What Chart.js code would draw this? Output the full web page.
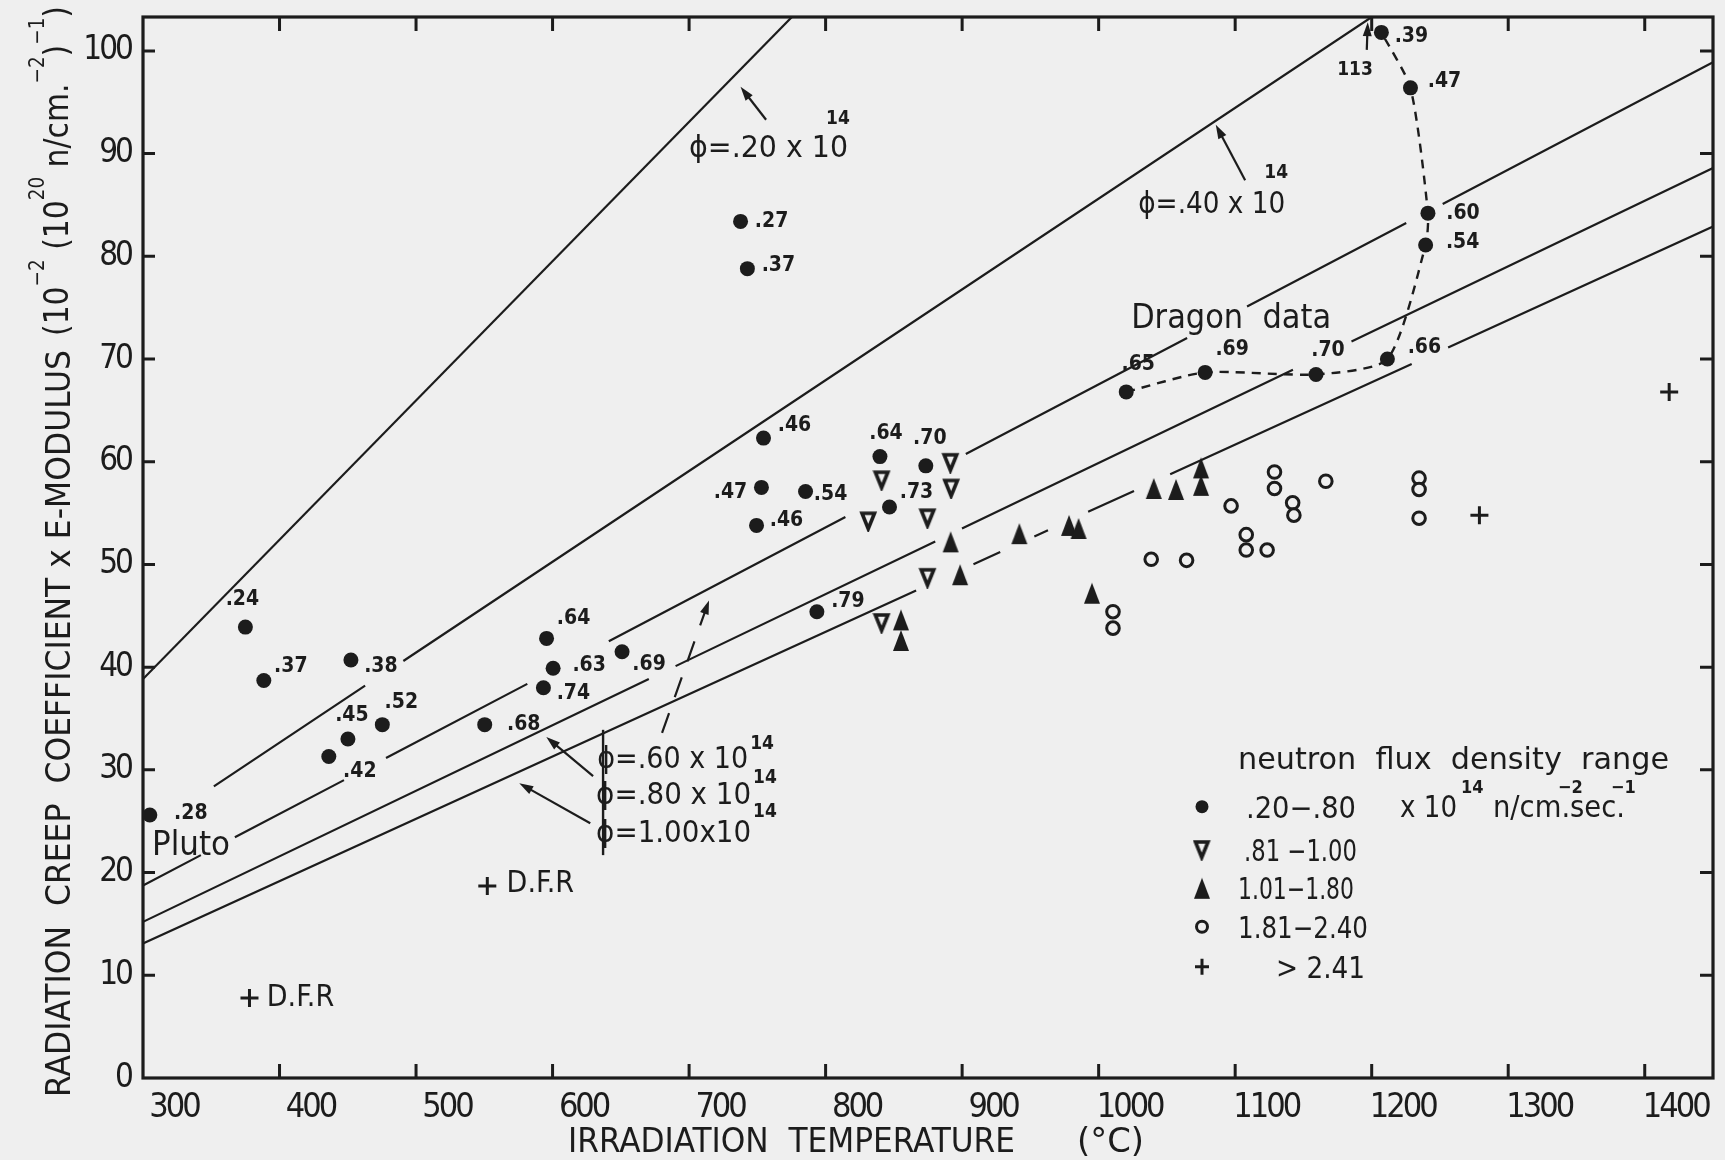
<!DOCTYPE html>
<html>
<head>
<meta charset="utf-8">
<title>Radiation creep coefficient x E-modulus vs irradiation temperature</title>
<script src="https://cdn.jsdelivr.net/npm/chart.js@4.4.1/dist/chart.umd.min.js"></script>
<style>
  html, body { margin: 0; padding: 0; background: #efefef; }
  canvas { display: block; }
</style>
</head>
<body>
<canvas id="creep" width="1725" height="1160"></canvas>
<script>
// ------------------------------------------------------------------
// Radiation creep coefficient x E-modulus against irradiation
// temperature, grouped by neutron flux density (10^14 n/cm^2 s).
// ------------------------------------------------------------------

const tempTicks  = [300, 400, 500, 600, 700, 800, 900, 1000, 1100, 1200, 1300, 1400];
const creepTicks = [0, 10, 20, 30, 40, 50, 60, 70, 80, 90, 100];

// flux .20 - .80 (solid circles); label = flux of each specimen
const lowT    = [305, 375, 388.5, 452.3, 450.1, 436.1, 475.3, 550.3, 595.6, 600.4, 593.3, 650.9, 737.7, 742.7, 754.5, 753.0, 785.3, 749.4, 793.6, 839.8, 873.4, 846.8];
const lowV    = [25.6, 43.9, 38.7, 40.7, 33.0, 31.3, 34.4, 34.4, 42.8, 39.9, 38.0, 41.5, 83.4, 78.8, 62.3, 57.5, 57.1, 53.8, 45.4, 60.5, 59.6, 55.6];
const lowFlux = ['.28', '.24', '.37', '.38', '.45', '.42', '.52', '.68', '.64', '.63', '.74', '.69', '.27', '.37', '.46', '.47', '.54', '.46', '.79', '.64', '.70', '.73'];

// Dragon reactor series (also .20 - .80), joined by a dashed curve
const dragonT    = [1020.2, 1078, 1159.2, 1211.5, 1239.5, 1241.2, 1228.4, 1207.1];
const dragonV    = [66.8, 68.7, 68.5, 70.0, 81.1, 84.2, 96.4, 101.8];
const dragonFlux = ['.65', '.69', '.70', '.66', '.54', '.60', '.47', '.39'];

// flux .81 - 1.00 (open down triangles)
const midT = [831.4, 841.2, 891.6, 892.1, 874.8, 874.8, 841.2];
const midV = [54.2, 58.2, 59.9, 57.4, 54.5, 48.7, 44.3];

// flux 1.01 - 1.80 (solid up triangles)
const highT = [891.6, 898.5, 855.2, 855.2, 941.9, 978.3, 985.3, 995.1, 1040.4, 1056.7, 1075, 1075];
const highV = [52.2, 49.0, 44.6, 42.6, 53.0, 53.8, 53.5, 47.2, 57.4, 57.3, 59.4, 57.7];

// flux 1.81 - 2.40 (open circles)
const vhighT = [1010.5, 1010.5, 1038.5, 1064.4, 1108.1, 1108.1, 1123.4, 1097, 1128.8, 1128.8, 1142.1, 1143, 1166.4, 1234.7, 1234.7, 1234.7];
const vhighV = [45.4, 43.8, 50.5, 50.4, 52.9, 51.4, 51.4, 55.7, 59.0, 57.4, 56.0, 54.8, 58.1, 58.4, 57.3, 54.5];

// flux > 2.41 (crosses)
const topT    = [1278.9, 1417.9, 552.2, 378];
const topV    = [54.8, 66.8, 18.7, 7.8];
const topNote = ['', '', 'D.F.R', 'D.F.R'];

// Constant-flux lines, drawn as visible pieces; null marks a break
const line020 = [[300, 38.85], [775.3, 103.3]];
const line040 = [[351.9, 28.4], [462.7, 38.2], null, [490.7, 40.6], [1200, 103.3]];
const line060 = [[300, 18.75], [342.4, 21.7], null, [367.3, 23.44], [447.2, 29.0], null, [478, 31.16], [581.5, 38.37], null,
                 [641.2, 42.53], [814.5, 54.61], null, [902.7, 60.76], [1064.8, 72.05], null, [1108.7, 75.12], [1225.3, 83.24], null,
                 [1252, 85.10], [1450, 98.9]];
const line080 = [[300, 15.2], [670.5, 38.85], null, [690.1, 40.10], [880.3, 52.24], null, [899.9, 53.49], [1142.3, 68.96], null,
                 [1185.2, 71.70], [1450, 88.6]];
const line100 = [[300, 13.1], [866.3, 47.47], null, [908.3, 50.02], [927.9, 51.21], null, [952.9, 52.73], [962.9, 53.34], null,
                 [992.3, 55.12], [1025.9, 57.16], null, [1052.4, 58.77], [1229.3, 69.51], null, [1256, 71.13], [1450, 82.9]];

// Legend entries
const fluxRanges = ['.20\u2212.80', '.81 \u22121.00', '1.01\u22121.80', '1.81\u22122.40', '> 2.41'];

// ------------------------------------------------------------------
// Styling and layout
// ------------------------------------------------------------------
const INK = '#1c1c1c';
const BG = '#efefef';
const COND = "'DejaVu Sans Condensed', 'DejaVu Sans', sans-serif";

// pixel offsets of the flux labels from their markers
const lowFluxOffset = [[41, -2], [-3, -28], [27, -14], [30, 7], [4, -24], [31, 15], [19, -22], [39, 0], [27, -20], [36, -3], [30, 6],
                       [27, 13], [31, 0], [31, -3], [31, -13], [-31, 5], [25, 3], [30, -5], [31, -10], [6, -23], [4, -27], [27, -14]];
const dragonOffset  = [[12, -27], [27, -23], [12, -24], [37, -11], [37, -2], [35, 0], [34, -6], [30, 4]];
const topNoteOffset = [[0, 0], [0, 0], [53, -2], [51, 0]];

function markerCanvas(kind) {
  const c = document.createElement('canvas');
  const g = c.getContext('2d');
  if (kind === 'down') {            // open triangle, apex down
    const w = 12.5, h = 15.5, p = 3;
    c.width = Math.ceil(w + 2 * p); c.height = Math.ceil(h + 2 * p);
    g.beginPath(); g.moveTo(p, p); g.lineTo(p + w, p); g.lineTo(p + w / 2, p + h); g.closePath();
    g.fillStyle = BG; g.fill(); g.lineWidth = 3.6; g.lineJoin = 'miter'; g.strokeStyle = INK; g.stroke();
  } else {                          // filled tall triangle, apex up
    const w = 16, h = 21, p = 1;
    c.width = w + 2 * p; c.height = h + 2 * p;
    g.beginPath(); g.moveTo(p + w / 2, p); g.lineTo(p + w, p + h); g.lineTo(p, p + h); g.closePath();
    g.fillStyle = INK; g.fill();
  }
  return c;
}
const downTri = markerCanvas('down');
const upTri = markerCanvas('up');

const xy = (ts, vs) => ts.map((t, i) => ({ x: t, y: vs[i] }));
const pieces = arr => arr.map(p => (p ? { x: p[0], y: p[1] } : { x: null, y: null }));

function lineSet(arr) {
  return { data: pieces(arr), showLine: true, pointRadius: 0, borderColor: INK, borderWidth: 2.2, fill: false };
}

// ------------------------------------------------------------------
// Text helpers (superscripts, width fitting)
// ------------------------------------------------------------------
function drawRich(ctx, parts, x, y, o) {
  const size = o.size, fam = o.family || COND, wt = o.weight || 'normal';
  const supSize = o.supSize || Math.round(size * 0.6);
  const rise = o.rise != null ? o.rise : size * 0.55;
  const font = s => `${wt} ${s}px ${fam}`;
  ctx.save();
  ctx.letterSpacing = '0px';
  let w = 0;
  const items = [];
  for (const p of parts) {
    const sup = typeof p !== 'string';
    const t = sup ? p.sup : p;
    ctx.font = font(sup ? supSize : size);
    const m = ctx.measureText(t).width;
    items.push({ t, sup, x: w });
    w += m;
  }
  const sx = o.width ? o.width / w : 1;
  ctx.translate(x, y);
  if (o.rotate) ctx.rotate(o.rotate);
  ctx.scale(sx, 1);
  const x0 = o.align === 'center' ? -w / 2 : 0;
  ctx.fillStyle = INK;
  ctx.textAlign = 'left';
  ctx.textBaseline = 'alphabetic';
  for (const it of items) {
    ctx.font = font(it.sup ? supSize : size);
    ctx.fillText(it.t, x0 + it.x, it.sup ? -rise : 0);
  }
  ctx.restore();
}

function arrow(ctx, x1, y1, x2, y2, dashed) {
  const a = Math.atan2(y2 - y1, x2 - x1), L = 14, W = 4.5;
  ctx.save();
  ctx.strokeStyle = INK; ctx.fillStyle = INK; ctx.lineWidth = 2.2;
  if (dashed) ctx.setLineDash([21, 17]);
  ctx.beginPath(); ctx.moveTo(x1, y1); ctx.lineTo(x2 - L * 0.6 * Math.cos(a), y2 - L * 0.6 * Math.sin(a)); ctx.stroke();
  ctx.setLineDash([]);
  ctx.beginPath();
  ctx.moveTo(x2, y2);
  ctx.lineTo(x2 - L * Math.cos(a) + W * Math.sin(a), y2 - L * Math.sin(a) - W * Math.cos(a));
  ctx.lineTo(x2 - L * Math.cos(a) - W * Math.sin(a), y2 - L * Math.sin(a) + W * Math.cos(a));
  ctx.closePath(); ctx.fill();
  ctx.restore();
}

// Annotations placed in data coordinates (temperature, creep value)
const fluxNotes = [
  { text: '\u03D5=.20 x 10', at: [700, 90.7],   width: 159, rise: 33, supShift: -22 },
  { text: '\u03D5=.40 x 10', at: [1029, 85.3],  width: 147, rise: 35, supShift: -21 },
  { text: '\u03D5=.60 x 10', at: [632.7, 31.3], width: 151, rise: 19, supShift: 2 },
  { text: '\u03D5=.80 x 10', at: [631.9, 27.7], width: 155, rise: 21, supShift: 2 },
  { text: '\u03D5=1.00x10',  at: [631.9, 24.0], width: 155, rise: 25, supShift: 2 }
];
const plainNotes = [
  { text: 'Dragon  data', at: [1023.8, 74.2], width: 200, size: 34 },
  { text: 'Pluto',        at: [306.6, 22.9],  width: 78,  size: 34 }
];
const arrowNotes = [
  { from: [756.4, 93.3],  to: [737.7, 96.5] },
  { from: [1107.3, 87.4], to: [1085.8, 92.8] },
  { from: [680.2, 33.6],  to: [714.6, 46.5], dashed: true },
  { from: [629.7, 29.4],  to: [595.4, 33.2] },
  { from: [627.6, 24.8],  to: [575.6, 28.7] },
  { from: [1196.4, 100.1], to: [1197.1, 102.8] }
];
const phiStem = { t: 637, from: 33.9, to: 21.7 };
const offScale = { text: '113', at: [1187.8, 98.15] };

// ------------------------------------------------------------------
// Plugin: paper, frame with inward ticks, labels, titles and legend
// ------------------------------------------------------------------
function legendMarker(ctx, kind, x, y) {
  ctx.save();
  ctx.fillStyle = INK; ctx.strokeStyle = INK;
  if (kind === 'dot') { ctx.beginPath(); ctx.arc(x, y, 6.5, 0, Math.PI * 2); ctx.fill(); }
  else if (kind === 'down') ctx.drawImage(downTri, x - downTri.width / 2, y - downTri.height / 2);
  else if (kind === 'up') ctx.drawImage(upTri, x - upTri.width / 2, y - upTri.height / 2);
  else if (kind === 'ring') { ctx.lineWidth = 3; ctx.beginPath(); ctx.arc(x, y, 5.5, 0, Math.PI * 2); ctx.stroke(); }
  else { ctx.lineWidth = 3; ctx.beginPath(); ctx.moveTo(x - 7, y); ctx.lineTo(x + 7, y); ctx.moveTo(x, y - 8); ctx.lineTo(x, y + 8); ctx.stroke(); }
  ctx.restore();
}

const paper = {
  id: 'paper',
  beforeDraw(chart) {
    const { ctx, width, height } = chart;
    ctx.save(); ctx.fillStyle = BG; ctx.fillRect(0, 0, width, height); ctx.restore();
    // narrow set of the tick numerals
    ctx.letterSpacing = '-3px';
  },
  beforeDatasetsDraw(chart) {
    const { ctx, chartArea: a, scales: { x, y } } = chart;
    ctx.letterSpacing = '0px';
    ctx.save();
    ctx.strokeStyle = INK;
    ctx.lineWidth = 3.2;
    ctx.strokeRect(a.left, a.top, a.right - a.left, a.bottom - a.top);
    ctx.lineWidth = 3;
    ctx.beginPath();
    for (const t of x.ticks) {
      const X = x.getPixelForValue(t.value);
      if (X <= a.left + 1) continue;
      ctx.moveTo(X, a.bottom); ctx.lineTo(X, a.bottom - 14);
      ctx.moveTo(X, a.top); ctx.lineTo(X, a.top + 14);
    }
    for (const t of y.ticks) {
      const Y = y.getPixelForValue(t.value);
      if (Y >= a.bottom - 1) continue;
      ctx.moveTo(a.left, Y); ctx.lineTo(a.left + 12, Y);
      ctx.moveTo(a.right, Y); ctx.lineTo(a.right - 13, Y);
    }
    ctx.stroke();
    ctx.restore();
  },
  afterDatasetsDraw(chart) {
    const { ctx, scales: { x, y } } = chart;
    const P = (t, v) => [x.getPixelForValue(t), y.getPixelForValue(v)];

    // flux labels beside the markers
    chart.data.datasets.forEach((ds, i) => {
      if (!ds.valueLabels) return;
      const meta = chart.getDatasetMeta(i);
      ctx.save();
      ctx.fillStyle = INK; ctx.textAlign = 'center'; ctx.textBaseline = 'middle';
      ctx.font = ds.labelFont;
      meta.data.forEach((el, j) => {
        const txt = ds.valueLabels[j];
        if (!txt) return;
        const off = ds.labelOffsets[j];
        ctx.fillText(txt, el.x + off[0], el.y + off[1]);
      });
      ctx.restore();
    });

    // flux-line captions
    for (const n of fluxNotes) {
      const [px, py] = P(n.at[0], n.at[1]);
      drawRich(ctx, [n.text], px, py + 11, { size: 30, width: n.width });
      drawRich(ctx, ['14'], px + n.width + n.supShift, py + 11 - n.rise, { size: 19, weight: 'bold' });
    }
    const [sx, sy1] = P(phiStem.t, phiStem.from);
    const [, sy2] = P(phiStem.t, phiStem.to);
    ctx.save(); ctx.strokeStyle = INK; ctx.lineWidth = 2.4;
    ctx.beginPath(); ctx.moveTo(sx, sy1); ctx.lineTo(sx, sy2); ctx.stroke(); ctx.restore();

    for (const n of plainNotes) {
      const [px, py] = P(n.at[0], n.at[1]);
      drawRich(ctx, [n.text], px, py + 12, { size: n.size, width: n.width });
    }
    for (const a of arrowNotes) {
      const [x1, y1] = P(a.from[0], a.from[1]);
      const [x2, y2] = P(a.to[0], a.to[1]);
      arrow(ctx, x1, y1, x2, y2, a.dashed);
    }
    {
      const [px, py] = P(offScale.at[0], offScale.at[1]);
      ctx.save(); ctx.fillStyle = INK; ctx.font = `bold 19px ${COND}`;
      ctx.textAlign = 'center'; ctx.textBaseline = 'middle'; ctx.fillText(offScale.text, px, py); ctx.restore();
    }

    // axis titles
    drawRich(ctx, ['IRRADIATION  TEMPERATURE'], 568, 1152, { size: 34, width: 447 });
    drawRich(ctx, ['(\u00B0C)'], 1077, 1152, { size: 34, width: 67 });
    drawRich(ctx, ['RADIATION  CREEP  COEFFICIENT x E-MODULUS'],
             70, 1097, { size: 34, width: 747, rotate: -Math.PI / 2 });
    drawRich(ctx, ['(10', { sup: '\u22122' }, ' (10', { sup: '20' }, ' n/cm.', { sup: '\u22122' }, ')', { sup: '\u22121' }, ')'],
             68, 336, { size: 34, supSize: 21, rise: 24, width: 330, rotate: -Math.PI / 2 });

    // legend
    drawRich(ctx, ['neutron  flux  density  range'], 1238, 769, { size: 30, width: 431 });
    const rowsY = [806.7, 850, 888.3, 926.7, 966.7];
    const kinds = ['dot', 'down', 'up', 'ring', 'cross'];
    const textX = [1246, 1244, 1238, 1238, 1276];
    const textW = [110, 113, 116, 130, 89];
    rowsY.forEach((ry, i) => {
      legendMarker(ctx, kinds[i], 1202, ry);
      drawRich(ctx, [fluxRanges[i]], textX[i], ry + 11, { size: 30, width: textW[i] });
    });
    drawRich(ctx, ['x 10'], 1400, 817, { size: 30, width: 57 });
    drawRich(ctx, ['14'], 1461, 793, { size: 18, weight: 'bold' });
    drawRich(ctx, ['n/cm.sec.'], 1493, 817, { size: 30, width: 132 });
    drawRich(ctx, ['\u22122'], 1558, 793, { size: 18, weight: 'bold' });
    drawRich(ctx, ['\u22121'], 1611, 793, { size: 18, weight: 'bold' });
  }
};

// ------------------------------------------------------------------
// Chart
// ------------------------------------------------------------------
const pointBase = { showLine: false, clip: false, borderColor: INK };

new Chart(document.getElementById('creep'), {
  type: 'scatter',
  data: {
    datasets: [
      { label: 'flux .20', ...lineSet(line020) },
      { label: 'flux .40', ...lineSet(line040) },
      { label: 'flux .60', ...lineSet(line060) },
      { label: 'flux .80', ...lineSet(line080) },
      { label: 'flux 1.00', ...lineSet(line100) },
      { label: 'Dragon data', data: xy(dragonT, dragonV), showLine: true, borderColor: INK, borderWidth: 2.4,
        borderDash: [9, 7], tension: 0.22, fill: false, clip: false,
        pointStyle: 'circle', pointRadius: 7.5, pointBackgroundColor: INK, pointBorderWidth: 0,
        valueLabels: dragonFlux, labelOffsets: dragonOffset, labelFont: `bold 21px ${COND}` },
      { label: '.20-.80', data: xy(lowT, lowV), ...pointBase,
        pointStyle: 'circle', pointRadius: 7.5, backgroundColor: INK, borderWidth: 0,
        valueLabels: lowFlux, labelOffsets: lowFluxOffset, labelFont: `bold 21px ${COND}` },
      { label: '.81-1.00', data: xy(midT, midV), ...pointBase, pointStyle: downTri, pointRadius: 9 },
      { label: '1.01-1.80', data: xy(highT, highV), ...pointBase, pointStyle: upTri, pointRadius: 9 },
      { label: '1.81-2.40', data: xy(vhighT, vhighV), ...pointBase,
        pointStyle: 'circle', pointRadius: 6.3, backgroundColor: BG, borderWidth: 3 },
      { label: '>2.41', data: xy(topT, topV), ...pointBase,
        pointStyle: 'cross', pointRadius: 9, borderWidth: 3,
        valueLabels: topNote, labelOffsets: topNoteOffset, labelFont: `30px ${COND}` }
    ]
  },
  options: {
    responsive: false,
    animation: false,
    devicePixelRatio: 1,
    events: [],
    layout: { padding: { top: 17, right: 9, left: 0, bottom: 0 } },
    plugins: { legend: { display: false }, tooltip: { enabled: false }, title: { display: false } },
    scales: {
      x: {
        type: 'linear', min: 300, max: 1450,
        grid: { display: false, drawTicks: false },
        border: { display: false },
        afterBuildTicks: s => { s.ticks = tempTicks.map(v => ({ value: v })); },
        afterFit: s => { s.height = 82; s.paddingLeft = 0; s.paddingRight = 0; },
        ticks: { labelOffset: 31, padding: 10, maxRotation: 0, autoSkip: false, color: INK,
                 font: { family: COND, size: 34 }, callback: v => String(v) }
      },
      y: {
        type: 'linear', min: 0, max: 103.3,
        grid: { display: false, drawTicks: false },
        border: { display: false },
        afterBuildTicks: s => { s.ticks = creepTicks.map(v => ({ value: v })); },
        afterFit: s => { s.width = 143; s.paddingTop = 0; s.paddingBottom = 0; },
        ticks: { padding: 12, color: INK, font: { family: COND, size: 33 }, callback: v => String(v) }
      }
    }
  },
  plugins: [paper]
});
</script>
</body>
</html>
